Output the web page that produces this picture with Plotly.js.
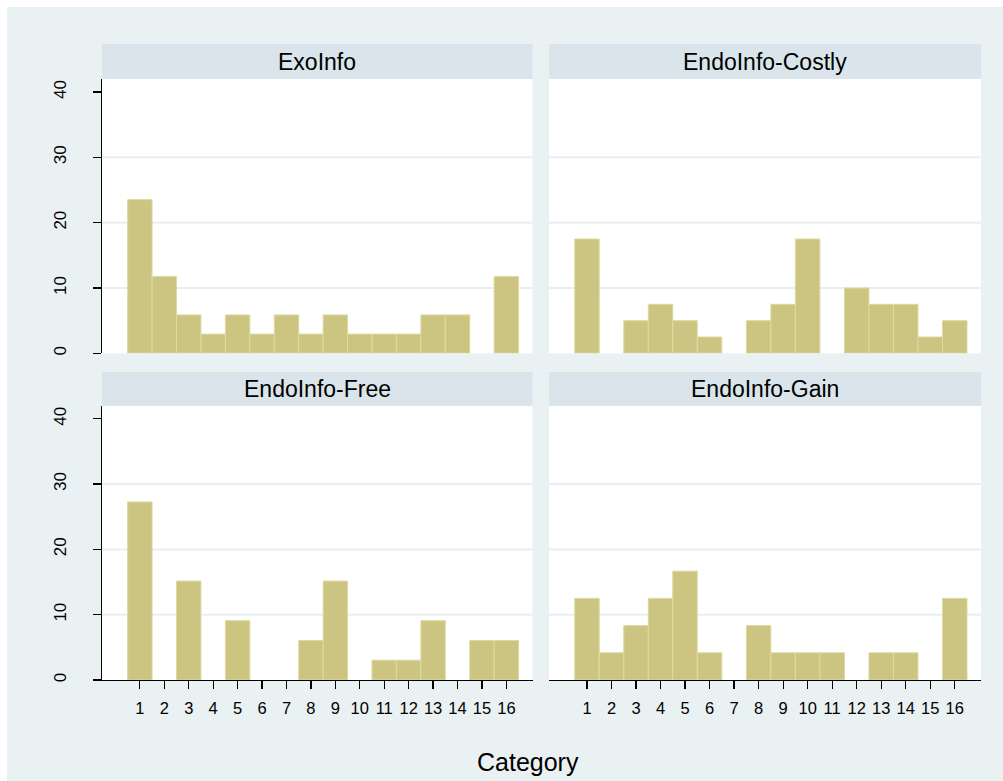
<!DOCTYPE html>
<html>
<head>
<meta charset="utf-8">
<script src="https://cdn.plot.ly/plotly-3.0.1.min.js"></script>
<style>
  html, body { margin: 0; padding: 0; background: #ffffff; }
  #chart { position: absolute; left: 7px; top: 7px; width: 996px; height: 774px; }
</style>
</head>
<body>
<div id="chart"></div>
<script>
// ---- data (percent of observations per category) ----
const categories = [1, 2, 3, 4, 5, 6, 7, 8, 9, 10, 11, 12, 13, 14, 15, 16];
const exoInfo      = [23.53, 11.76, 5.88, 2.94, 5.88, 2.94, 5.88, 2.94, 5.88, 2.94, 2.94, 2.94, 5.88, 5.88, 0, 11.76];
const endoCostly   = [17.5, 0, 5, 7.5, 5, 2.5, 0, 5, 7.5, 17.5, 0, 10, 7.5, 7.5, 2.5, 5];
const endoFree     = [27.27, 0, 15.15, 0, 9.09, 0, 0, 6.06, 15.15, 0, 3.03, 3.03, 9.09, 0, 6.06, 6.06];
const endoGain     = [12.5, 4.17, 8.33, 12.5, 16.67, 4.17, 0, 8.33, 4.17, 4.17, 4.17, 0, 4.17, 4.17, 0, 12.5];
const panelTitles  = ["ExoInfo", "EndoInfo-Costly", "EndoInfo-Free", "EndoInfo-Gain"];
const yTickVals    = [0, 10, 20, 30, 40];
const gridVals     = [10, 20, 30];
const xAxisTitle   = "Category";

// ---- styling ----
const FONT = "Arial, 'Liberation Sans', Helvetica, sans-serif";
const BG = "#EAF1F3";
const STRIP = "#D9E5EA";
const BAR = "#CCC582";
const BAR_EDGE = "#DEDAA2";
const GRID = "#E8EFF2";

const series = [exoInfo, endoCostly, endoFree, endoGain];
const axisIds = [["x", "y"], ["x2", "y2"], ["x3", "y3"], ["x4", "y4"]];

// empty categories get no bar (avoid drawing a zero-height outline)
const traces = series.map((vals, i) => ({
  type: "bar",
  x: categories,
  y: vals.map(v => (v === 0 ? null : v)),
  xaxis: axisIds[i][0],
  yaxis: axisIds[i][1],
  width: 1,
  marker: { color: BAR, line: { color: BAR_EDGE, width: 1 } },
  hoverinfo: "x+y",
  showlegend: false
}));

const xLeft = [0, 0.4898];
const xRight = [0.5085, 1];
const yTop = [0.5436, 1];
const yBot = [0, 0.4564];
const XR = [-0.55, 17.07];
const YR = [0, 42];

function xaxis(domain, anchor, bottom) {
  return {
    domain: domain, anchor: anchor, range: XR, fixedrange: true,
    showgrid: false, zeroline: false,
    showline: bottom, linecolor: "#000000", linewidth: 1.3,
    tickmode: "array", tickvals: bottom ? categories : [], ticktext: bottom ? categories.map(String) : [],
    ticks: bottom ? "outside" : "", ticklen: 8, tickwidth: 1.2, tickcolor: "#000000",
    showticklabels: bottom, ticklabelstandoff: 5,
    tickfont: { family: FONT, size: 16.5, color: "#000000" }
  };
}
function yaxis(domain, anchor, left) {
  return {
    domain: domain, anchor: anchor, range: YR, fixedrange: true,
    showgrid: false, zeroline: false,
    showline: left, linecolor: "#000000", linewidth: 1.3,
    tickmode: "array", tickvals: left ? yTickVals : [], ticktext: left ? yTickVals.map(String) : [],
    ticks: left ? "outside" : "", ticklen: 8, tickwidth: 1.2, tickcolor: "#000000",
    showticklabels: left, tickangle: -90, ticklabelstandoff: 20,
    tickfont: { family: FONT, size: 17, color: "#000000" }
  };
}

const domains = [[xLeft, yTop], [xRight, yTop], [xLeft, yBot], [xRight, yBot]];
const shapes = [];
const annotations = [];
domains.forEach((d, i) => {
  const [xd, yd] = d;
  const stripH = i < 2 ? 0.0582 : 0.0561;
  shapes.push({
    type: "rect", xref: "paper", yref: "paper", layer: "below",
    x0: xd[0], x1: xd[1], y0: yd[1], y1: yd[1] + stripH,
    fillcolor: STRIP, line: { width: 0 }
  });
  annotations.push({
    xref: "paper", yref: "paper", x: (xd[0] + xd[1]) / 2, y: yd[1] + stripH / 2,
    xanchor: "center", yanchor: "middle", showarrow: false,
    text: panelTitles[i], font: { family: FONT, size: 23, color: "#000000" }
  });
  gridVals.forEach(g => {
    shapes.push({
      type: "line", xref: axisIds[i][0] + " domain", yref: axisIds[i][1], layer: "below",
      x0: 0, x1: 1, y0: g, y1: g, line: { color: GRID, width: 2 }
    });
  });
});

annotations.push({
  xref: "paper", yref: "paper", x: 0.4846, y: -0.137,
  xanchor: "center", yanchor: "middle", showarrow: false,
  text: xAxisTitle, font: { family: FONT, size: 25, color: "#000000" }
});

const layout = {
  width: 996, height: 774,
  margin: { l: 95, r: 22, t: 72, b: 101 },
  paper_bgcolor: BG, plot_bgcolor: "#ffffff",
  bargap: 0, showlegend: false,
  font: { family: FONT, color: "#000000" },
  xaxis: xaxis(xLeft, "y", false),
  yaxis: yaxis(yTop, "x", true),
  xaxis2: xaxis(xRight, "y2", false),
  yaxis2: yaxis(yTop, "x2", false),
  xaxis3: xaxis(xLeft, "y3", true),
  yaxis3: yaxis(yBot, "x3", true),
  xaxis4: xaxis(xRight, "y4", true),
  yaxis4: yaxis(yBot, "x4", false),
  shapes: shapes,
  annotations: annotations
};

Plotly.newPlot("chart", traces, layout, { displayModeBar: false, staticPlot: true });
</script>
</body>
</html>
